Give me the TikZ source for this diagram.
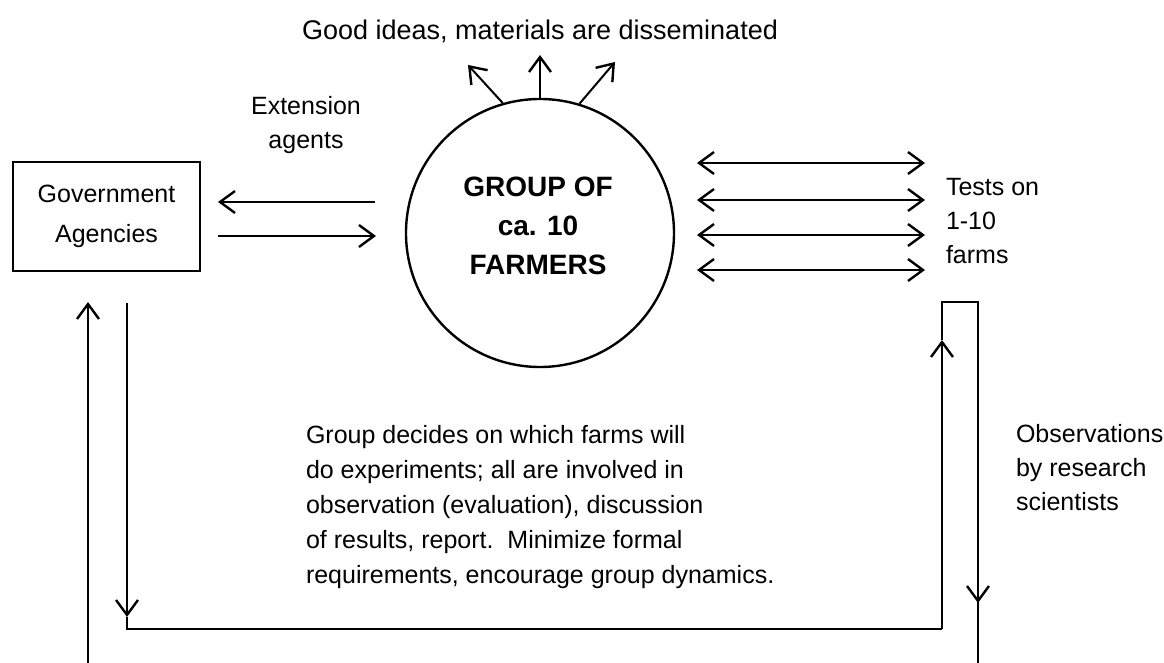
\documentclass[tikz,border=0pt]{standalone}
\usepackage{fontspec}
\setmainfont{Liberation Sans}
\usetikzlibrary{arrows.meta}

\begin{document}
\begin{tikzpicture}
[x=0.5pt, y=-0.5pt, line width=1pt,
 >={Straight Barb[length=7.5pt, width=11pt, line width=1.2pt]},
 every node/.style={inner sep=0pt},
 plain/.style={font=\fontsize{12.5}{17}\selectfont, align=center},
 flow/.style={line width=1pt, ->, color=black}]
\useasboundingbox (0,0) rectangle (1164,663);
\node (title) [font=\fontsize{13.5}{16}\selectfont] at (540,31) {Good ideas, materials are disseminated};
\node (group) [circle, minimum size=134pt, line width=1.2pt, draw=black] at (540,233) {};
\node (grouplbl) [font=\fontsize{14}{19.5}\selectfont\bfseries, align=center] at (538,226) {GROUP OF\\ca. 10\\FARMERS};
\node (gov) [rectangle, minimum width=93.5pt, minimum height=54.5pt, line width=1pt, draw=black, font=\fontsize{12.5}{20}\selectfont, align=center] at (106.5,216.5) {Government\\Agencies};
\node (ext) [plain] at (306,125) {Extension\\agents};
\node (tests) [plain, align=left, anchor=west] at (945,221) {Tests on\\1-10\\farms};
\node (obs) [plain, align=left, anchor=west] at (1015,468) {Observations\\by research\\scientists};
\node (decide) [plain, align=left, anchor=west, font=\fontsize{12.5}{17.5}\selectfont] at (305,507) {Group decides on which farms will\\do experiments; all are involved in\\observation (evaluation), discussion\\of results, report.\ \ Minimize formal\\requirements, encourage group dynamics.};
% dissemination
\coordinate (up1) at (468,65);
\coordinate (up2) at (540,55);
\coordinate (up3) at (615,62);
\draw [flow] (group.106) to (up1);
\draw [flow] (group.north) to (up2);
\draw [flow] (group.73) to (up3);
% extension agents
\coordinate (ea1) at (375,202);
\coordinate (ea2) at (218,202);
\coordinate (ea3) at (218,236);
\coordinate (ea4) at (376,236);
\draw [flow] (ea1) to (ea2);
\draw [flow] (ea3) to (ea4);
% tests on farms
\foreach \i/\y in {1/163,2/200,3/235,4/270} {
  \coordinate (tl\i) at (697,\y);
  \coordinate (tr\i) at (925,\y);
  \draw [line width=1pt, <->, color=black] (tl\i) to (tr\i);
}
% feedback loops
\coordinate (a1) at (88,663);
\coordinate (a2) at (88,302);
\draw [flow] (a1) to (a2);
\coordinate (b1) at (127,303);
\coordinate (b2) at (127,617);
\coordinate (b3) at (127,629);
\coordinate (b4) at (942,629);
\coordinate (b5) at (942,340);
\coordinate (b6) at (942,302);
\coordinate (b7) at (978,302);
\coordinate (b8) at (978,603);
\coordinate (b9) at (978,663);
\draw [flow] (b1) to (b2);
\draw [line width=1pt] (b2) -- (b3) -- (b4);
\draw [flow] (b4) to (b5);
\draw [line width=1pt] (b5) -- (b6) -- (b7) -- (b8);
\draw [flow] (b7) to (b8);
\draw [line width=1pt] (b8) -- (b9);
\end{tikzpicture}
\end{document}
